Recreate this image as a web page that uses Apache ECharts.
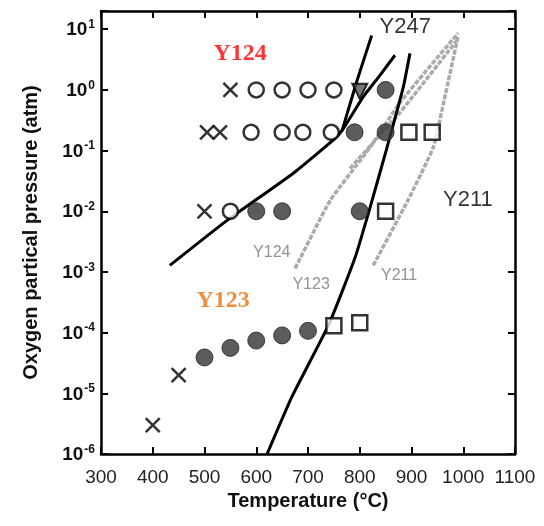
<!DOCTYPE html>
<html lang="en" style="height: 100%">
<head>
  <meta charset="utf-8">
  <style>
    body { margin: 0; background: #fff; }
  </style>
</head>
<body style="height: 100%; margin: 0">
  <div id="container" style="width: 544px; height: 526px"></div>
  <script src="https://cdn.jsdelivr.net/npm/echarts@6/dist/echarts.min.js"></script>
  <script>
// temperature (°C), oxygen partial pressure (atm)
var crosses = [[550, 1], [505, 0.2], [530, 0.2], [500, 0.01], [450, 2e-5], [400, 3e-6]];
var openCircles = [[600, 1], [650, 1], [700, 1], [750, 1], [590, 0.2], [650, 0.2], [690, 0.2], [745, 0.2], [550, 0.01]];
var filledCircles = [[850, 1], [790, 0.2], [850, 0.2], [600, 0.01], [650, 0.01], [800, 0.01],
  [500, 3.9e-5], [550, 5.6e-5], [600, 7.4e-5], [650, 9e-5], [700, 1.07e-4]];
var openSquares = [[895, 0.2], [940, 0.2], [850, 0.01], [750, 1.3e-4], [800, 1.46e-4]];
var triangles = [[800, 0.95]];

// phase boundaries
var lineY124 = [[433, 1.28e-3], [543, 7.0e-3], [671, 0.042], [748, 0.147], [766, 0.215], [806, 0.755], [839, 1.74], [868, 3.72]];
var lineY247 = [[766, 0.215], [795, 1.44], [823, 7.9]];
var lineY123 = [[621, 1e-6], [669, 8.8e-6], [741, 1.41e-4], [791, 1.73e-3],
  [820, 0.0116], [851, 0.1], [884, 1.1], [897, 4.0]];
var dashY124 = [[675, 1.14e-3], [743, 0.0151], [820, 0.113], [878, 0.624], [990, 8.6]];
var dashY123 = [[781, 0.0508], [878, 0.427], [988, 6.58]];
var dashY211 = [[826, 1.28e-3], [893, 0.0151], [942, 0.113], [963, 0.673], [990, 7.66]];

var xTicks = [300, 400, 500, 600, 700, 800, 900, 1000, 1100];
var yExponents = [-6, -5, -4, -3, -2, -1, 0, 1];

// annotations: [T, p, text, style]
var notes = [
  [569, 3.86, 'Y124', 'red'],
  [536, 3.37e-4, 'Y123', 'orange'],
  [888, 10.8, 'Y247', 'big'],
  [1009, 0.0151, 'Y211', 'big'],
  [630, 2.09e-3, 'Y124', 'gray'],
  [706, 6.2e-4, 'Y123', 'gray'],
  [876, 8.7e-4, 'Y211', 'gray']
];

var noteStyles = {
  red: { color: '#ff0000', fontFamily: 'Liberation Serif', fontWeight: 'bold', fontSize: 24 },
  orange: { color: '#e8730f', fontFamily: 'Liberation Serif', fontWeight: 'bold', fontSize: 24 },
  big: { color: '#000', fontFamily: 'Liberation Sans', fontSize: 22 },
  gray: { color: '#777', fontFamily: 'Liberation Sans', fontSize: 16 }
};

var dom = document.getElementById('container');
var myChart = echarts.init(dom, null, { renderer: 'canvas' });

var crossPath = 'path://M0,0L10,10M10,0L0,10';

function curve(data, dashed) {
  return {
    type: 'line',
    data: data,
    smooth: 0.15,
    symbol: 'none',
    silent: true,
    z: dashed ? 1 : 2,
    lineStyle: dashed
      ? { color: '#ababab', width: 3.5, type: [5, 1.5] }
      : { color: '#000', width: 3 }
  };
}

function points(data, symbol, size, style, rotate) {
  return {
    type: 'scatter',
    data: data,
    symbol: symbol,
    symbolSize: size,
    symbolRotate: rotate || 0,
    itemStyle: style,
    z: 3
  };
}

function axisCommon(showLabel) {
  return {
    axisLine: { lineStyle: { color: '#000', width: 2.5 } },
    axisTick: { inside: true, length: 7, lineStyle: { color: '#000', width: 2 } },
    axisLabel: { show: showLabel },
    splitLine: { show: false }
  };
}

var xBottom = Object.assign(axisCommon(true), {
  type: 'value', min: 300, max: 1100, interval: 100, position: 'bottom',
  name: 'Temperature (°C)', nameLocation: 'middle', nameGap: 37,
  nameTextStyle: { fontFamily: 'Liberation Sans', fontWeight: 'bold', fontSize: 20, color: '#111' }
});
xBottom.axisLabel = {
  margin: 14, color: '#222', fontFamily: 'Liberation Sans', fontSize: 19,
  formatter: function (v) { return xTicks.indexOf(v) >= 0 ? String(v) : ''; }
};
var xTop = Object.assign(axisCommon(false), {
  type: 'value', min: 300, max: 1100, interval: 100, position: 'top'
});

var yLeft = Object.assign(axisCommon(true), {
  type: 'log', logBase: 10, min: 1e-6, max: Math.pow(10, 1.3), position: 'left',
  name: 'Oxygen partical pressure (atm)', nameLocation: 'middle', nameGap: 60,
  nameTextStyle: { fontFamily: 'Liberation Sans', fontWeight: 'bold', fontSize: 20, color: '#111' }
});
yLeft.axisLabel = {
  margin: 6,
  formatter: function (v) {
    var e = Math.round(Math.log10(v));
    if (Math.abs(Math.log10(v) - e) > 1e-6 || yExponents.indexOf(e) < 0) return '';
    return '{b|10}{s|' + e + '}';
  },
  rich: {
    b: { fontFamily: 'Liberation Sans', fontWeight: 'bold', fontSize: 19, color: '#111', verticalAlign: 'bottom' },
    s: { fontFamily: 'Liberation Sans', fontWeight: 'bold', fontSize: 12, color: '#111', padding: [0, 0, 9, 1] }
  }
};
var yRight = Object.assign(axisCommon(false), {
  type: 'log', logBase: 10, min: 1e-6, max: Math.pow(10, 1.3), position: 'right'
});

var option = {
  backgroundColor: '#fff',
  animation: false,
  grid: { left: 101, right: 29, top: 11, bottom: 72 },
  xAxis: [xBottom, xTop],
  yAxis: [yLeft, yRight],
  series: [
    curve(dashY124, true),
    curve(dashY123, true),
    curve(dashY211, true),
    curve(lineY124, false),
    curve(lineY247, false),
    curve(lineY123, false),
    points(openCircles, 'circle', 15, { color: '#fff', borderColor: '#000', borderWidth: 2.5 }),
    points(filledCircles, 'circle', 17, { color: '#333', borderColor: '#222', borderWidth: 1 }),
    points(openSquares, 'rect', 15, { color: '#fff', borderColor: '#000', borderWidth: 2.5 }),
    points(crosses, crossPath, 14, { color: 'none', borderColor: '#000', borderWidth: 2.5 }),
    points(triangles, 'triangle', 15, { color: '#555', borderColor: '#000', borderWidth: 2 }, 180),
    {
      type: 'scatter',
      symbolSize: 0,
      silent: true,
      z: 4,
      data: notes.map(function (n) {
        return {
          value: [n[0], n[1]],
          label: Object.assign({ show: true, position: 'inside', formatter: n[2] }, noteStyles[n[3]])
        };
      })
    }
  ]
};

myChart.setOption(option);
window.addEventListener('resize', myChart.resize);
  </script>
</body>
</html>
